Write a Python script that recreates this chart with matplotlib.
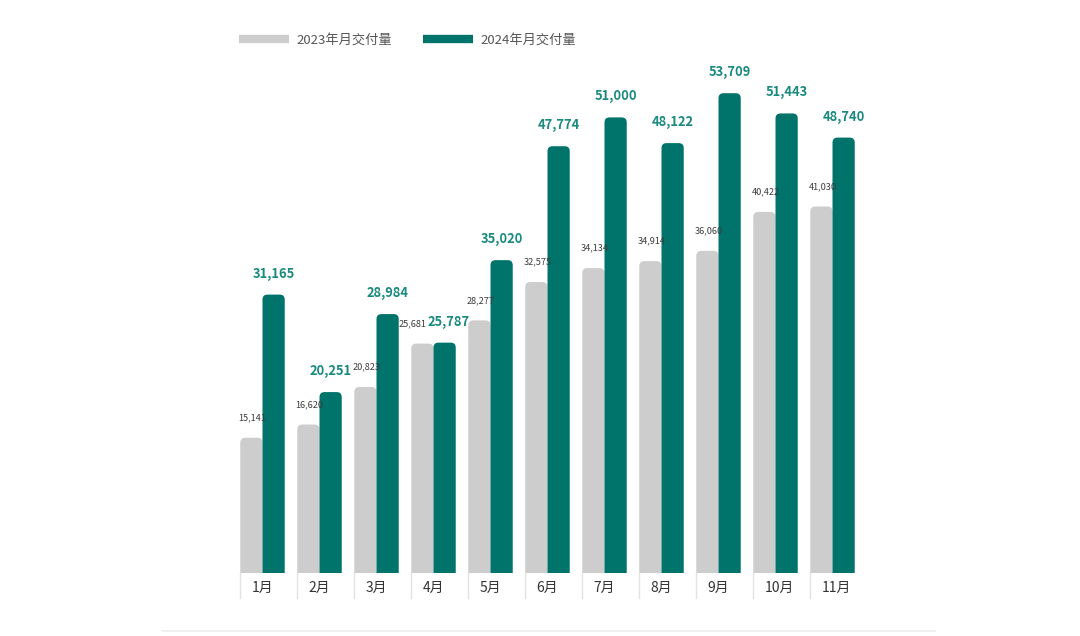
import matplotlib
matplotlib.use("Agg")
import matplotlib.pyplot as plt
from matplotlib.patches import FancyBboxPatch
from matplotlib.lines import Line2D
import numpy as np

plt.rcParams['font.family'] = ['Noto Sans CJK SC', 'DejaVu Sans']

months = ["1月", "2月", "3月", "4月", "5月", "6月", "7月", "8月", "9月", "10月", "11月"]
deliv_2023 = [15141, 16620, 20823, 25681, 28277, 32575, 34134, 34914, 36060, 40422, 41030]
deliv_2024 = [31165, 20251, 28984, 25787, 35020, 47774, 51000, 48122, 53709, 51443, 48740]
series_names = ["2023年月交付量", "2024年月交付量"]

GREY = "#cdcdcd"
TEAL = "#00736a"
TEAL_TXT = "#1a8a7f"

W, H = 1080, 636
fig = plt.figure(figsize=(W / 100, H / 100), dpi=100)
# axes placed so that baseline sits at ~573px and a group pitch is ~57px
ax = fig.add_axes([234 / W, (H - 573) / H, 627 / W, 536 / H])
ax.set_xlim(-0.5, 10.5)
ax.set_ylim(0, 60000)
ax.axis("off")

bw = 0.39
x = np.arange(len(months))

# data units per pixel, used to get round corners that look circular
ux = (ax.get_xlim()[1] - ax.get_xlim()[0]) / 627
uy = (ax.get_ylim()[1] - ax.get_ylim()[0]) / 536
r = 5 * ux
aspect = uy / ux


def rbar(xc, val, color):
    p = FancyBboxPatch((xc - bw / 2, -10 * uy), bw, val + 10 * uy,
                       boxstyle=f"round,pad=0,rounding_size={r}",
                       mutation_aspect=aspect, fc=color, ec="none")
    ax.add_patch(p)


for i in x:
    rbar(i - bw / 2, deliv_2023[i], GREY)
    rbar(i + bw / 2, deliv_2024[i], TEAL)
    gx, tx = i - bw / 2 + 1 * ux, i + bw / 2
    if abs(deliv_2024[i] - deliv_2023[i]) < 3000:
        # labels at the same height: push them apart
        gx, tx = gx - 11 * ux, tx + 4 * ux
    ax.text(gx, deliv_2023[i] + 20 * uy, f"{deliv_2023[i]:,}",
            ha="center", va="center", fontsize=6.6, color="#3c3c3c")
    ax.text(tx, deliv_2024[i] + 21 * uy, f"{deliv_2024[i]:,}",
            ha="center", va="center", fontsize=9.3, fontweight="bold", color=TEAL_TXT)
    # category separator and label
    ax.plot([i - bw, i - bw], [0, -25 * uy], color="#e2e2e2", lw=1, clip_on=False)
    ax.text(i - bw + 11 * ux, -15 * uy, months[i], ha="left", va="center",
            fontsize=10, color="#333333", clip_on=False)

# light rule under the chart
fig.add_artist(Line2D([162 / W, 935 / W], [1 - 631 / H, 1 - 631 / H],
                      color="#ececec", lw=1.2))

handles = [Line2D([], [], color=GREY, lw=6, solid_capstyle="butt"),
           Line2D([], [], color=TEAL, lw=6, solid_capstyle="butt")]
fig.legend(handles, series_names, loc="center left", bbox_to_anchor=(234 / W, 1 - 40 / H),
           ncol=2, frameon=False, fontsize=9.5, labelcolor="#555555",
           handlelength=3.8, handletextpad=0.5, columnspacing=2.4, borderaxespad=0)

fig.savefig("out.png", dpi=100)
